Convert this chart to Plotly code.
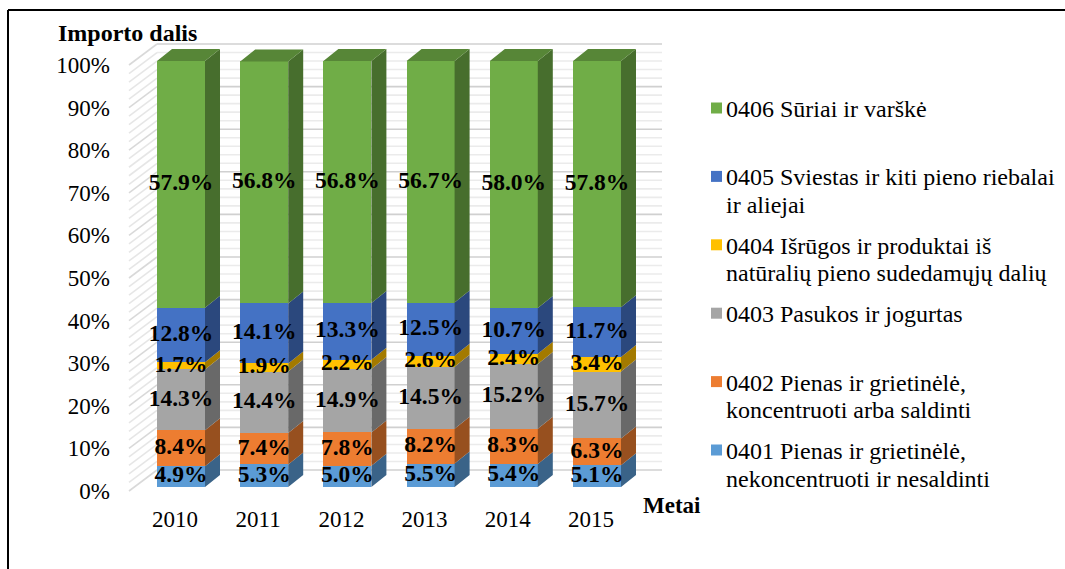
import plotly.graph_objects as go

# ---- data -----------------------------------------------------------------
years = ["2010", "2011", "2012", "2013", "2014", "2015"]

codes = ["0401", "0402", "0403", "0404", "0405", "0406"]  # bottom -> top
v0401 = [4.9, 5.3, 5.0, 5.5, 5.4, 5.1]
v0402 = [8.4, 7.4, 7.8, 8.2, 8.3, 6.3]
v0403 = [14.3, 14.4, 14.9, 14.5, 15.2, 15.7]
v0404 = [1.7, 1.9, 2.2, 2.6, 2.4, 3.4]
v0405 = [12.8, 14.1, 13.3, 12.5, 10.7, 11.7]
v0406 = [57.9, 56.8, 56.8, 56.7, 58.0, 57.8]
series_values = [v0401, v0402, v0403, v0404, v0405, v0406]

legend_labels = {
    "0406": ["0406 Sūriai ir varškė"],
    "0405": ["0405 Sviestas ir kiti pieno riebalai", "ir aliejai"],
    "0404": ["0404 Išrūgos ir produktai iš", "natūralių pieno sudedamųjų dalių"],
    "0403": ["0403 Pasukos ir jogurtas"],
    "0402": ["0402 Pienas ir grietinėlė,", "koncentruoti arba saldinti"],
    "0401": ["0401 Pienas ir grietinėlė,", "nekoncentruoti ir nesaldinti"],
}

y_ticks = list(range(0, 101, 10))
y_ticktext = [f"{t}%" for t in y_ticks]

# ---- styling ----------------------------------------------------------------
front_colors = {
    "0401": "#5B9BD5", "0402": "#ED7D31", "0403": "#A5A5A5",
    "0404": "#FFC000", "0405": "#4472C4", "0406": "#70AD47",
}


def shade(hex_color, f):
    h = hex_color.lstrip("#")
    r, g, b = (int(h[i:i + 2], 16) for i in (0, 2, 4))
    return "#{:02x}{:02x}{:02x}".format(int(r * f), int(g * f), int(b * f))


SERIF = "Liberation Serif"
W, H = 1065, 569
L, R, T, B = 115, 680, 30, 500          # plot-area box in pixels
PITCH = 83.2                             # px between category centres
FIRST = 181                              # px of first category centre
PX_PER_PCT = 4.26                        # px per percentage point
Y0_PX = 487                              # px of 0% on the bar front plane

x_range = [(L - FIRST) / PITCH, (R - FIRST) / PITCH]
y_range = [(Y0_PX - B) / PX_PER_PCT, (Y0_PX - T) / PX_PER_PCT]

BAR_W = 48 / PITCH                       # bar width (data units)
DX = 15 / PITCH                          # bar depth, horizontal
DY = 12 / PX_PER_PCT                     # bar depth, vertical
WALL_FX, WALL_FY = -52 / PITCH, -4 / PX_PER_PCT    # wall front-left corner offset
WALL_BX, WALL_BY = -24 / PITCH, 17 / PX_PER_PCT    # back wall offset
WALL_RX = 481 / PITCH                               # back wall right end

LEGEND_TOP = 108        # px, centre of first legend line
LEGEND_STEP = 68.4      # px between entries
LEGEND_LINE = 27.5      # px between wrapped lines


def paper_x(px):
    return (px - L) / (R - L)


def paper_y(py):
    return (B - py) / (B - T)


fig = go.Figure()

# front faces of the stacked bars
xs = list(range(len(years)))
for code, vals in zip(codes, series_values):
    fig.add_trace(go.Bar(
        x=xs, y=vals, width=BAR_W, name=code,
        marker=dict(color=front_colors[code], line=dict(width=0)),
        hoverinfo="skip", showlegend=False,
    ))

# side faces and top face (depth) computed from the cumulative stack
cum = [0.0] * len(years)
label_x, label_y, label_t = [], [], []
for k, (code, vals) in enumerate(zip(codes, series_values)):
    px_, py_ = [], []
    for i, v in enumerate(vals):
        lo, hi = cum[i], cum[i] + v
        xr = i + BAR_W / 2
        px_ += [xr, xr + DX, xr + DX, xr, xr, None]
        py_ += [lo, lo + DY, hi + DY, hi, lo, None]
        label_x.append(i)
        label_y.append((lo + hi) / 2)
        label_t.append(f"{v:.1f}%")
        cum[i] = hi
    fig.add_trace(go.Scatter(
        x=px_, y=py_, mode="lines", fill="toself",
        fillcolor=shade(front_colors[code], 0.64), line=dict(width=0),
        hoverinfo="skip", showlegend=False,
    ))
    if k == len(codes) - 1:
        tx, ty = [], []
        for i in range(len(years)):
            xl, xr = i - BAR_W / 2, i + BAR_W / 2
            top = cum[i]
            tx += [xl, xr, xr + DX, xl + DX, xl, None]
            ty += [top, top, top + DY, top + DY, top, None]
        fig.add_trace(go.Scatter(
            x=tx, y=ty, mode="lines", fill="toself",
            fillcolor=shade(front_colors[code], 0.78), line=dict(width=0),
            hoverinfo="skip", showlegend=False,
        ))

# data labels
fig.add_trace(go.Scatter(
    x=label_x, y=label_y, text=label_t, mode="text",
    textposition="middle center",
    textfont=dict(family=SERIF, size=23.5, color="black", weight="bold"),
    hoverinfo="skip", showlegend=False,
))

# back wall and side wall gridlines
shapes = []
for v in range(0, 101, 2):
    major = v % 10 == 0
    col = "#d0d0d0" if major else "#ebebeb"
    shapes.append(dict(type="line", xref="x", yref="y", layer="below",
                       x0=WALL_BX, x1=WALL_RX, y0=v + WALL_BY, y1=v + WALL_BY,
                       line=dict(color=col, width=1.6)))
    shapes.append(dict(type="line", xref="x", yref="y", layer="below",
                       x0=WALL_FX, x1=WALL_BX, y0=v + WALL_FY, y1=v + WALL_BY,
                       line=dict(color="#d9d9d9" if major else "#e6e6e6", width=1.6)))

# outer frame
shapes.append(dict(type="line", xref="paper", yref="paper",
                   x0=paper_x(8), x1=paper_x(W + 5), y0=paper_y(10), y1=paper_y(10),
                   line=dict(color="black", width=2)))
shapes.append(dict(type="line", xref="paper", yref="paper",
                   x0=paper_x(8), x1=paper_x(8), y0=paper_y(10), y1=paper_y(H + 5),
                   line=dict(color="black", width=2)))

# legend (top entry first)
annotations = []
legend_order = list(reversed(codes))
for n, code in enumerate(legend_order):
    cy = LEGEND_TOP + n * LEGEND_STEP
    shapes.append(dict(type="rect", xref="paper", yref="paper",
                       x0=paper_x(711), x1=paper_x(722),
                       y0=paper_y(cy + 5.5), y1=paper_y(cy - 5.5),
                       fillcolor=front_colors[code], line=dict(width=0)))
    for j, line in enumerate(legend_labels[code]):
        annotations.append(dict(
            xref="paper", yref="paper", x=paper_x(724),
            y=paper_y(cy + j * LEGEND_LINE + 1),
            xanchor="left", yanchor="middle", align="left", showarrow=False,
            text=line,
            font=dict(family=SERIF, size=24, color="black"),
        ))

# axis titles
annotations.append(dict(
    xref="paper", yref="paper", x=paper_x(56), y=paper_y(33),
    xanchor="left", yanchor="middle", showarrow=False, text="Importo dalis",
    font=dict(family=SERIF, size=24, color="black", weight="bold"),
))
annotations.append(dict(
    xref="paper", yref="paper", x=paper_x(641), y=paper_y(505),
    xanchor="left", yanchor="middle", showarrow=False, text="Metai",
    font=dict(family=SERIF, size=23, color="black", weight="bold"),
))

fig.update_layout(
    width=W, height=H,
    margin=dict(l=L, r=W - R, t=T, b=H - B),
    barmode="stack",
    plot_bgcolor="white", paper_bgcolor="white",
    showlegend=False,
    shapes=shapes, annotations=annotations,
    xaxis=dict(range=x_range, tickmode="array", tickvals=xs, ticktext=years,
               showgrid=False, zeroline=False, showline=False, ticks="",
               ticklabelshift=-6, ticklabelstandoff=3,
               tickfont=dict(family=SERIF, size=23, color="black")),
    yaxis=dict(range=y_range, tickmode="array", tickvals=y_ticks, ticktext=y_ticktext,
               showgrid=False, zeroline=False, showline=False, ticks="",
               ticklabelshift=4, ticklabelstandoff=4,
               tickfont=dict(family=SERIF, size=23, color="black")),
)

fig.write_html("out.html")
